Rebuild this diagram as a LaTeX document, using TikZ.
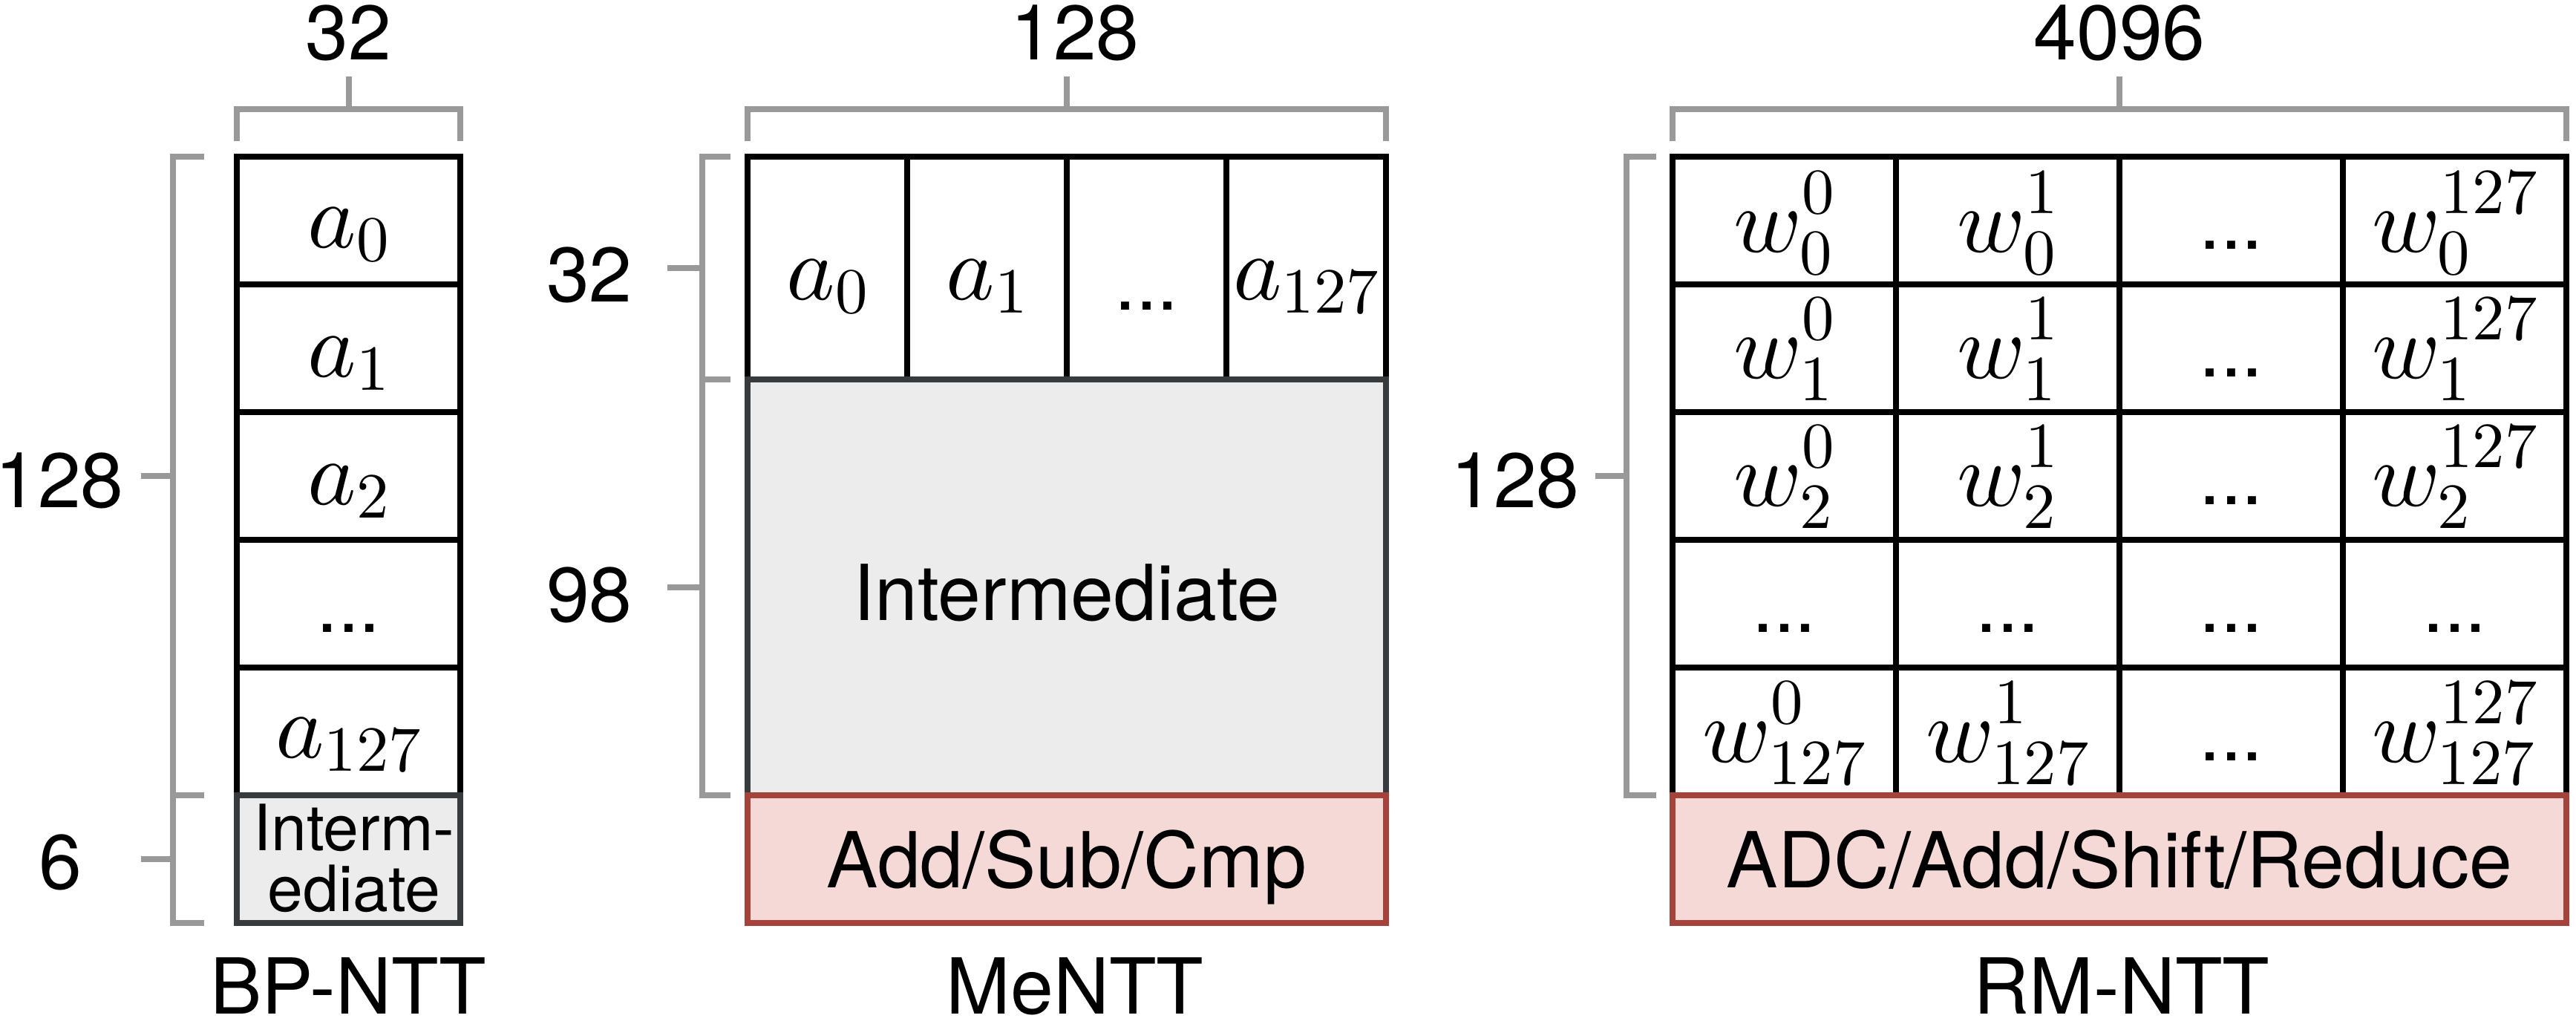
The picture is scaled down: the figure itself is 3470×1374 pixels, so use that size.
\documentclass[tikz,border=0pt]{standalone}
\usepackage[no-math]{fontspec}
\newfontfamily\hv{TeX Gyre Heros}
\DeclareFontFamily{OT1}{cmrs}{\hyphenchar\font45 }
\DeclareFontShape{OT1}{cmrs}{m}{n}{<-> cmr10}{}
\DeclareFontFamily{OML}{cmms}{\skewchar\font127 }
\DeclareFontShape{OML}{cmms}{m}{it}{<-> cmmi10}{}
\DeclareFontFamily{OMS}{cmsys}{\skewchar\font48 }
\DeclareFontShape{OMS}{cmsys}{m}{n}{<-> cmsy10}{}
\DeclareFontFamily{OMX}{cmexs}{}
\DeclareFontShape{OMX}{cmexs}{m}{n}{<-> cmex10}{}
\SetSymbolFont{operators}{normal}{OT1}{cmrs}{m}{n}
\SetSymbolFont{letters}{normal}{OML}{cmms}{m}{it}
\SetSymbolFont{symbols}{normal}{OMS}{cmsys}{m}{n}
\SetSymbolFont{largesymbols}{normal}{OMX}{cmexs}{m}{n}
\definecolor{brkgray}{HTML}{999999}
\definecolor{intgray}{HTML}{383B3E}
\definecolor{intfill}{HTML}{ECECEC}
\definecolor{opred}{HTML}{A5433A}
\definecolor{opfill}{HTML}{F5D9D6}
\tikzset{
  brk/.style={draw=brkgray, line width=8pt},
  cellbox/.style={draw=black, line width=8pt},
  interbox/.style={draw=intgray, fill=intfill, line width=8pt},
  opbox/.style={draw=opred, fill=opfill, line width=8.5pt},
  lbl/.style={font=\hv\fontsize{104}{110}\selectfont, inner sep=0pt, anchor=base},
  lblr/.style={lbl, anchor=base east},
  small/.style={font=\hv\fontsize{86}{90}\selectfont, inner sep=0pt, anchor=base},
  mth/.style={font=\fontsize{124}{130}\selectfont, inner sep=0pt, anchor=base},
}
\begin{document}
\begin{tikzpicture}[x=1pt,y=-1pt]
\useasboundingbox (0,0) rectangle (3470,1374);

% ---------------- BP-NTT ----------------
\draw[cellbox] (319,211) rectangle (620,1071);
\foreach \yy in {383,555,727,899} \draw[cellbox] (319,\yy) -- (620,\yy);
\draw[interbox] (319,1071) rectangle (620,1243);
\node[mth] (bpa0) at (469.5,333) {$a_0$};
\node[mth] (bpa1) at (469.5,507) {$a_1$};
\node[mth] (bpa2) at (469.5,679) {$a_2$};
\node[lbl] (bpdots) at (469.5,851) {...};
\node[mth] (bpa127) at (469.5,1020) {$a_{127}$};
\node[small] (bpint1) at (477,1145) {Interm-};
\node[small] (bpint2) at (477,1227) {ediate};
% brackets
\draw[brk] (319,190) -- (319,147) -- (620,147) -- (620,190);
\draw[brk] (469.5,147) -- (469.5,103);
\node[lbl] (bptop) at (469,80) {32};
\draw[brk] (275,211) -- (233,211) -- (233,1071) -- (275,1071);
\draw[brk] (233,641) -- (190,641);
\draw[brk] (275,1071) -- (233,1071) -- (233,1243) -- (275,1243);
\draw[brk] (233,1157) -- (190,1157);
\node[lblr] (bpl1) at (167,683) {128};
\node[lblr] (bpl2) at (111,1197) {6};
\node[lbl] (bpname) at (469,1365) {BP-NTT};

% ---------------- MeNTT ----------------
\draw[cellbox] (1007,211) rectangle (1867,511);
\foreach \xx in {1222,1437,1652} \draw[cellbox] (\xx,211) -- (\xx,511);
\draw[interbox] (1007,511) rectangle (1867,1071);
\draw[opbox] (1007,1071) rectangle (1867,1243);
\node[mth] (mea0) at (1114.5,403) {$a_0$};
\node[mth] (mea1) at (1329.5,403) {$a_1$};
\node[lbl] (medots) at (1544.5,417) {...};
\node[mth] (mea127) at (1759.5,403) {$a_{127}$};
\node[lbl] (meint) at (1437,835) {Intermediate};
\node[lbl] (meop) at (1437,1195) {Add/Sub/Cmp};
\draw[brk] (1007,190) -- (1007,147) -- (1867,147) -- (1867,190);
\draw[brk] (1437,147) -- (1437,103);
\node[lbl] (metop) at (1448,80) {128};
\draw[brk] (984,211) -- (946,211) -- (946,511) -- (984,511);
\draw[brk] (946,361) -- (899,361);
\draw[brk] (984,511) -- (946,511) -- (946,1071) -- (984,1071);
\draw[brk] (946,791) -- (899,791);
\node[lblr] (mel1) at (852,406) {32};
\node[lblr] (mel2) at (852,837) {98};
\node[lbl] (mename) at (1448,1365) {MeNTT};

% ---------------- RM-NTT ----------------
\draw[cellbox] (2253,211) rectangle (3457,1071);
\foreach \yy in {383,555,727,899} \draw[cellbox] (2253,\yy) -- (3457,\yy);
\foreach \xx in {2554,2855,3156} \draw[cellbox] (\xx,211) -- (\xx,1071);
\draw[opbox] (2253,1071) rectangle (3457,1243);
% row 0
\node[mth] (w00) at (2403.5,339) {$\displaystyle w^{0}_{0}$};
\node[mth] (w01) at (2704.5,339) {$\displaystyle w^{1}_{0}$};
\node[lbl] (d02) at (3005.5,335) {...};
\node[mth] (w03) at (3306.5,339) {$\displaystyle w^{127}_{0}$};
% row 1
\node[mth] (w10) at (2403.5,509) {$\displaystyle w^{0}_{1}$};
\node[mth] (w11) at (2704.5,509) {$\displaystyle w^{1}_{1}$};
\node[lbl] (d12) at (3005.5,507) {...};
\node[mth] (w13) at (3306.5,509) {$\displaystyle w^{127}_{1}$};
% row 2
\node[mth] (w20) at (2403.5,681) {$\displaystyle w^{0}_{2}$};
\node[mth] (w21) at (2704.5,681) {$\displaystyle w^{1}_{2}$};
\node[lbl] (d22) at (3005.5,679) {...};
\node[mth] (w23) at (3306.5,681) {$\displaystyle w^{127}_{2}$};
% row 3
\node[lbl] (d30) at (2403.5,851) {...};
\node[lbl] (d31) at (2704.5,851) {...};
\node[lbl] (d32) at (3005.5,851) {...};
\node[lbl] (d33) at (3306.5,851) {...};
% row 4
\node[mth] (w40) at (2403.5,1026) {$\displaystyle w^{0}_{127}$};
\node[mth] (w41) at (2704.5,1026) {$\displaystyle w^{1}_{127}$};
\node[lbl] (d42) at (3005.5,1024) {...};
\node[mth] (w43) at (3306.5,1026) {$\displaystyle w^{127}_{127}$};
\node[lbl] (rmop) at (2855,1195) {ADC/Add/Shift/Reduce};
\draw[brk] (2253,190) -- (2253,147) -- (3457,147) -- (3457,190);
\draw[brk] (2855,147) -- (2855,103);
\node[lbl] (rmtop) at (2855,80) {4096};
\draw[brk] (2231,211) -- (2191,211) -- (2191,1071) -- (2231,1071);
\draw[brk] (2191,641) -- (2149,641);
\node[lblr] (rml1) at (2128,683) {128};
\node[lbl] (rmname) at (2858,1365) {RM-NTT};
\end{tikzpicture}
\end{document}
